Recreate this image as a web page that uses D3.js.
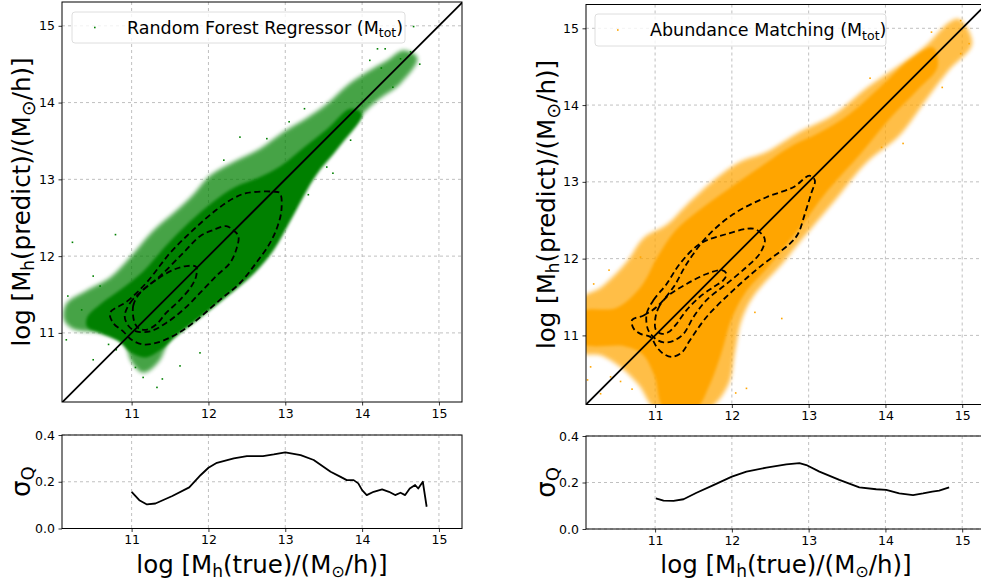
<!DOCTYPE html>
<html>
<head>
<meta charset="utf-8">
<script src="https://cdn.jsdelivr.net/npm/d3@7"></script>
<style>
body { margin: 0; background: #fff; }
text { font-family: "DejaVu Sans", sans-serif; fill: #000; }
</style>
</head>
<body>
<div id="container"></div>
<script>
// ticks
const MASS_TICKS = [11, 12, 13, 14, 15];
const SIGMA_TICKS = [0.0, 0.2, 0.4];

// Random Forest panel (green) - cloud outlines
const rfSparse = [[10.12,11.17],[10.15,11.38],[10.41,11.55],[10.72,11.72],[11.02,12.03],[11.28,12.33],[11.59,12.60],
  [11.80,12.80],[12.02,13.05],[12.33,13.23],[12.67,13.40],[12.98,13.62],[13.28,13.80],[13.54,13.98],[13.80,14.22],
  [14.07,14.40],[14.33,14.55],[14.54,14.68],[14.72,14.58],[14.50,14.25],[14.20,14.03],[13.89,13.74],[13.63,13.52],
  [13.41,13.30],[13.11,12.88],[12.85,12.54],[12.59,12.19],[12.33,11.89],[12.07,11.63],[11.80,11.37],[11.59,11.15],
  [11.48,10.91],[11.35,10.62],[11.15,10.48],[11.0,10.62],[10.89,10.88],[10.59,11.0],[10.24,11.05]];
const rfCore = [[10.42,11.20],[10.60,11.38],[10.85,11.56],[11.15,11.80],[11.45,12.14],[11.75,12.44],[12.05,12.70],
  [12.35,12.90],[12.65,13.02],[12.95,13.18],[13.25,13.42],[13.55,13.66],[13.85,13.92],[14.0,13.85],[13.70,13.42],
  [13.40,13.05],[13.10,12.52],[12.85,12.08],[12.60,11.78],[12.25,11.48],[11.90,11.20],[11.60,10.97],[11.38,10.78],
  [11.18,10.68],[11.0,10.74],[10.82,10.90],[10.60,11.0],[10.42,11.08]];
const rfOutliers = [[10.23,12.18],[10.79,12.28],[14.67,14.99],[14.30,14.70],[14.20,14.70],[11.33,10.29],[11.15,10.42],
  [10.50,10.65],[10.15,10.91],[10.17,11.48],[10.50,11.74],[10.59,11.61],[10.80,10.78],[11.63,10.57],[11.89,10.74],
  [13.85,13.51],[13.11,12.62],[13.54,13.16],[12.41,13.55],[12.76,13.53],[14.50,14.57],[14.63,14.66],[14.75,14.50],
  [11.40,10.40],[10.35,11.30],[12.20,13.25],[13.05,13.75],[13.25,13.92],[13.62,13.08],[13.30,12.80],[14.25,14.45],
  [14.40,14.20],[14.10,14.55],[12.35,11.80],[10.70,10.85],[11.05,10.55]];
const rfContourOuter = [[10.72,11.26],[10.94,11.41],[11.19,11.65],[11.50,12.04],[11.80,12.34],[12.10,12.60],[12.32,12.75],
  [12.49,12.82],[12.84,12.84],[12.93,12.82],[12.95,12.60],[12.90,12.39],[12.80,12.17],[12.62,11.91],[12.41,11.65],
  [12.15,11.43],[11.80,11.13],[11.54,10.96],[11.32,10.87],[11.15,10.85],[11.0,10.91],[10.89,11.02],[10.76,11.13]];
const rfContourMiddle = [[10.91,11.22],[10.98,11.39],[11.15,11.56],[11.37,11.74],[11.67,12.04],[11.89,12.26],[12.06,12.34],
  [12.23,12.39],[12.32,12.34],[12.39,12.26],[12.36,12.08],[12.28,11.91],[12.10,11.74],[11.89,11.52],[11.67,11.30],
  [11.45,11.13],[11.24,11.02],[11.06,11.02],[10.96,11.09]];
const rfContourInner = [[11.04,11.13],[11.02,11.35],[11.11,11.52],[11.32,11.69],[11.54,11.82],[11.71,11.87],[11.84,11.86],
  [11.84,11.74],[11.78,11.61],[11.63,11.43],[11.45,11.26],[11.32,11.11],[11.19,11.04],[11.09,11.06]];
const rfSigma = [[11.0,0.157],[11.10,0.121],[11.20,0.103],[11.31,0.107],[11.53,0.139],[11.75,0.176],[11.9,0.229],
  [12.0,0.260],[12.11,0.281],[12.33,0.30],[12.50,0.31],[12.71,0.31],[12.85,0.317],[13.0,0.326],[13.20,0.314],
  [13.37,0.293],[13.59,0.243],[13.72,0.221],[13.80,0.207],[13.89,0.207],[13.95,0.193],[14.0,0.164],[14.06,0.143],
  [14.15,0.157],[14.26,0.167],[14.35,0.157],[14.43,0.143],[14.50,0.153],[14.56,0.143],[14.62,0.171],[14.69,0.186],
  [14.73,0.171],[14.79,0.20],[14.84,0.093]];

// Abundance Matching panel (orange)
const amSparse = [[10.05,11.48],[10.29,11.62],[10.63,11.96],[10.85,12.27],[11.15,12.44],[11.41,12.70],[11.80,13.05],
  [12.10,13.26],[12.45,13.39],[12.88,13.65],[13.32,13.87],[13.75,14.22],[14.18,14.52],[14.53,14.78],[14.83,15.08],
  [14.96,15.12],[15.13,14.80],[14.83,14.46],[14.53,14.07],[14.18,13.60],[13.75,13.25],[13.32,12.73],[12.88,12.21],
  [12.67,11.95],[12.28,11.51],[12.12,11.18],[12.04,10.78],[11.95,10.35],[11.67,10.03],[11.02,10.03],[10.79,10.35],
  [10.57,10.57],[10.29,10.74],[10.05,10.78]];
const amCore = [[10.05,11.30],[10.50,11.36],[10.82,11.64],[11.03,12.02],[11.26,12.36],[11.56,12.62],[11.92,12.88],
  [12.35,13.18],[12.80,13.48],[13.10,13.62],[13.53,13.88],[13.97,14.27],[14.31,14.58],[14.62,14.75],[14.68,14.50],
  [14.42,14.20],[14.08,13.85],[13.68,13.37],[13.25,12.89],[12.86,12.37],[12.47,11.89],[12.17,11.55],[11.99,11.20],
  [11.86,10.76],[11.70,10.33],[11.53,10.05],[11.12,10.05],[10.99,10.48],[10.83,10.76],[10.60,10.86],[10.05,10.90]];
const amOutliers = [[14.98,15.10],[15.09,14.80],[14.98,14.67],[14.23,13.50],[12.65,11.22],[12.19,10.31],[10.42,10.46],
  [10.29,10.24],[10.16,10.59],[10.20,11.67],[10.81,12.02],[10.94,11.76],[14.74,14.23],[12.05,10.25],[10.40,11.85],
  [13.80,14.35],[14.60,14.95],[10.70,10.30],[10.12,10.42],[10.55,10.40],[12.30,11.30],[13.95,13.45]];
const amContourOuter = [[10.70,11.20],[10.85,11.26],[11.02,11.37],[11.24,11.63],[11.41,11.93],[11.67,12.28],[12.02,12.58],
  [12.45,12.80],[12.80,12.93],[13.01,13.08],[13.08,13.02],[13.03,12.84],[12.95,12.58],[12.86,12.32],[12.75,12.19],
  [12.36,11.89],[12.02,11.59],[11.67,11.24],[11.45,10.93],[11.35,10.78],[11.22,10.72],[11.11,10.76],[11.02,10.85],
  [10.94,10.98],[10.81,11.02],[10.72,11.09]];
const amContourMiddle = [[10.89,11.28],[10.98,11.46],[11.15,11.67],[11.32,11.93],[11.58,12.19],[11.93,12.32],[12.28,12.39],
  [12.39,12.32],[12.43,12.24],[12.36,12.06],[12.19,11.89],[11.93,11.67],[11.67,11.46],[11.50,11.24],[11.37,11.02],
  [11.24,10.93],[11.11,10.91],[11.0,10.96],[10.91,11.07]];
const amContourInner = [[11.0,11.20],[11.04,11.35],[11.15,11.50],[11.41,11.67],[11.67,11.80],[11.87,11.85],[11.93,11.80],
  [11.89,11.72],[11.76,11.63],[11.58,11.50],[11.41,11.33],[11.28,11.15],[11.17,11.04],[11.09,11.02],[11.01,11.07]];
const amSigma = [[11.01,0.132],[11.11,0.122],[11.24,0.121],[11.37,0.128],[11.54,0.156],[11.76,0.189],[12.0,0.225],
  [12.19,0.247],[12.45,0.264],[12.71,0.278],[12.88,0.283],[12.97,0.275],[13.14,0.247],[13.40,0.211],[13.66,0.179],
  [13.88,0.171],[14.01,0.168],[14.18,0.153],[14.36,0.146],[14.49,0.153],[14.61,0.161],[14.70,0.165],[14.83,0.179]];

const panels = [
  { id: "rf", color: "#008000", legend: "Random Forest Regressor (M", left: 62, top: 2, bottom: 402,
    lowTop: 435, lowBottom: 528.5, xDomain: [10.094, 15.3], yDomain: [10.10, 15.31],
    sparse: rfSparse, core: rfCore, outliers: rfOutliers,
    contours: [rfContourOuter, rfContourMiddle, rfContourInner], sigma: rfSigma,
    legendBox: [72, 12, 333, 31], labelX: 21 },
  { id: "am", color: "#ffa500", legend: "Abundance Matching (M", left: 586, top: 4.5, bottom: 404.5,
    lowTop: 436, lowBottom: 529, xDomain: [10.10, 15.31], yDomain: [10.10, 15.31],
    sparse: amSparse, core: amCore, outliers: amOutliers,
    contours: [amContourOuter, amContourMiddle, amContourInner], sigma: amSigma,
    legendBox: [595, 14, 291, 32], labelX: 546 }
];

const WIDTH = 981, HEIGHT = 584, SIZE = 400;

const svg = d3.select("#container")
  .append("svg")
  .attr("width", WIDTH)
  .attr("height", HEIGHT);

const defs = svg.append("defs");
defs.append("filter").attr("id", "soft")
  .attr("x", "-20%").attr("y", "-20%").attr("width", "140%").attr("height", "140%")
  .append("feGaussianBlur").attr("stdDeviation", 2.2);
defs.append("filter").attr("id", "soft2")
  .attr("x", "-20%").attr("y", "-20%").attr("width", "140%").attr("height", "140%")
  .append("feGaussianBlur").attr("stdDeviation", 1.5);

const styleAxis = (g) => {
  g.select(".domain").remove();
  g.selectAll(".tick line").attr("stroke", "#000").attr("stroke-width", 0.8);
  g.selectAll(".tick text").attr("font-size", 12.5).attr("fill", "#000")
    .attr("font-family", "DejaVu Sans, sans-serif");
};

function drawPanel(p) {
  const x = d3.scaleLinear().domain(p.xDomain).range([p.left, p.left + SIZE]);
  const y = d3.scaleLinear().domain(p.yDomain).range([p.bottom, p.top]);
  const ys = d3.scaleLinear().domain([0, 0.4]).range([p.lowBottom, p.lowTop]);

  defs.append("clipPath").attr("id", "clip-" + p.id)
    .append("rect").attr("x", p.left).attr("y", p.top).attr("width", SIZE).attr("height", p.bottom - p.top);

  const main = svg.append("g");
  const plot = main.append("g").attr("clip-path", `url(#clip-${p.id})`);

  // grid
  plot.selectAll(".gx").data(MASS_TICKS).join("line")
    .attr("x1", d => x(d)).attr("x2", d => x(d)).attr("y1", p.top).attr("y2", p.bottom)
    .attr("stroke", "#b0b0b0").attr("stroke-width", 0.8).attr("stroke-dasharray", "3,3");
  plot.selectAll(".gy").data(MASS_TICKS).join("line")
    .attr("y1", d => y(d)).attr("y2", d => y(d)).attr("x1", p.left).attr("x2", p.left + SIZE)
    .attr("stroke", "#b0b0b0").attr("stroke-width", 0.8).attr("stroke-dasharray", "3,3");

  const closed = d3.line().x(d => x(d[0])).y(d => y(d[1])).curve(d3.curveCatmullRomClosed);

  // scatter cloud: sparse fringe, dense core, single outliers
  plot.append("path").datum(p.sparse).attr("d", closed)
    .attr("fill", p.color).attr("opacity", 0.72).attr("filter", "url(#soft)");
  plot.append("path").datum(p.core).attr("d", closed)
    .attr("fill", p.color).attr("filter", "url(#soft2)");
  plot.selectAll(".out").data(p.outliers).join("rect")
    .attr("x", d => x(d[0]) - 0.8).attr("y", d => y(d[1]) - 0.8)
    .attr("width", 1.6).attr("height", 1.6).attr("fill", p.color);

  // contours
  plot.selectAll(".contour").data(p.contours).join("path")
    .attr("d", closed).attr("fill", "none").attr("stroke", "#000")
    .attr("stroke-width", 1.8).attr("stroke-dasharray", "6,3.5");

  // one-to-one line
  plot.append("line")
    .attr("x1", x(10)).attr("y1", y(10)).attr("x2", x(15.5)).attr("y2", y(15.5))
    .attr("stroke", "#000").attr("stroke-width", 1.8);

  // legend
  const [lx, ly, lw, lh] = p.legendBox;
  main.append("rect").attr("x", lx).attr("y", ly).attr("width", lw).attr("height", lh)
    .attr("rx", 3).attr("fill", "#fff").attr("fill-opacity", 0.8)
    .attr("stroke", "#d6d6d6").attr("stroke-width", 0.8);
  main.append("rect").attr("x", lx + 22).attr("y", ly + lh / 2 - 0.8)
    .attr("width", 1.6).attr("height", 1.6).attr("fill", p.color);
  const lt = main.append("text").attr("x", lx + 55).attr("y", ly + lh / 2 + 6)
    .attr("font-size", 17.5).text(p.legend);
  lt.append("tspan").attr("font-size", 12.5).attr("dy", 3.5).text("tot");
  lt.append("tspan").attr("dy", -3.5).text(")");

  main.append("rect").attr("x", p.left).attr("y", p.top).attr("width", SIZE).attr("height", p.bottom - p.top)
    .attr("fill", "none").attr("stroke", "#000").attr("stroke-width", 1);

  main.append("g").attr("transform", `translate(0,${p.bottom})`)
    .call(d3.axisBottom(x).tickValues(MASS_TICKS).tickSize(3.5).tickPadding(3.5).tickFormat(d3.format("d")))
    .call(styleAxis);
  main.append("g").attr("transform", `translate(${p.left},0)`)
    .call(d3.axisLeft(y).tickValues(MASS_TICKS).tickSize(3.5).tickPadding(3.5).tickFormat(d3.format("d")))
    .call(styleAxis);

  const yl = main.append("text")
    .attr("transform", `translate(${p.labelX + 9},${(p.top + p.bottom) / 2}) rotate(-90)`)
    .attr("text-anchor", "middle").attr("font-size", 24.5).text("log [M");
  yl.append("tspan").attr("font-size", 17).attr("dy", 4).text("h");
  yl.append("tspan").attr("dy", -4).text("(predict)/(M");
  yl.append("tspan").attr("font-size", 19).attr("dy", 5).text("⊙");
  yl.append("tspan").attr("dy", -5).text("/h)]");

  // lower sigma panel
  const low = svg.append("g");
  low.selectAll(".gx").data(MASS_TICKS).join("line")
    .attr("x1", d => x(d)).attr("x2", d => x(d)).attr("y1", p.lowTop).attr("y2", p.lowBottom)
    .attr("stroke", "#b0b0b0").attr("stroke-width", 0.8).attr("stroke-dasharray", "3,3");
  low.selectAll(".gy").data(SIGMA_TICKS).join("line")
    .attr("y1", d => ys(d)).attr("y2", d => ys(d)).attr("x1", p.left).attr("x2", p.left + SIZE)
    .attr("stroke", "#b0b0b0").attr("stroke-width", 0.8).attr("stroke-dasharray", "3,3");

  low.append("path").datum(p.sigma)
    .attr("d", d3.line().x(d => x(d[0])).y(d => ys(d[1])))
    .attr("fill", "none").attr("stroke", "#000").attr("stroke-width", 1.8).attr("stroke-linejoin", "round");

  low.append("rect").attr("x", p.left).attr("y", p.lowTop).attr("width", SIZE).attr("height", p.lowBottom - p.lowTop)
    .attr("fill", "none").attr("stroke", "#000").attr("stroke-width", 1);

  low.append("g").attr("transform", `translate(0,${p.lowBottom})`)
    .call(d3.axisBottom(x).tickValues(MASS_TICKS).tickSize(3.5).tickPadding(3.5).tickFormat(d3.format("d")))
    .call(styleAxis);
  low.append("g").attr("transform", `translate(${p.left},0)`)
    .call(d3.axisLeft(ys).tickValues(SIGMA_TICKS).tickSize(3.5).tickPadding(3.5).tickFormat(d3.format(".1f")))
    .call(styleAxis);

  const sl = low.append("text")
    .attr("transform", `translate(${p.labelX + 9},${(p.lowTop + p.lowBottom) / 2}) rotate(-90)`)
    .attr("text-anchor", "middle").attr("font-size", 26).text("σ");
  sl.append("tspan").attr("font-size", 18).attr("dy", 4).text("Q");

  const xl = low.append("text")
    .attr("x", p.left + SIZE / 2).attr("y", 573)
    .attr("text-anchor", "middle").attr("font-size", 24.5).text("log [M");
  xl.append("tspan").attr("font-size", 17).attr("dy", 4).text("h");
  xl.append("tspan").attr("dy", -4).text("(true)/(M");
  xl.append("tspan").attr("font-size", 16).attr("dy", 4).text("⊙");
  xl.append("tspan").attr("dy", -4).text("/h)]");
}

panels.forEach(drawPanel);
</script>
</body>
</html>
